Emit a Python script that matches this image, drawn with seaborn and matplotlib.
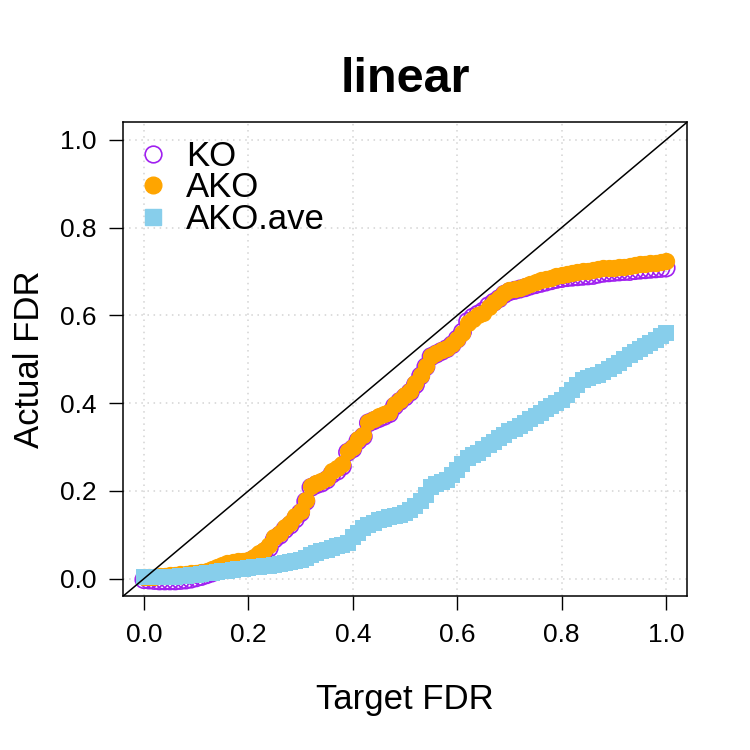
import numpy as np
import pandas as pd
import seaborn as sns
import matplotlib
matplotlib.use("Agg")
import matplotlib.pyplot as plt
from matplotlib.lines import Line2D

# target FDR levels
target = [round(i * 0.01, 2) for i in range(101)]

# actual FDR
ko = [-0.002, -0.003, -0.004, -0.005, -0.005, -0.005, -0.005, -0.004, -0.003, -0.001,
      0.002, 0.005, 0.009, 0.013, 0.018, 0.024, 0.029, 0.032, 0.034, 0.036,
      0.038, 0.044, 0.052, 0.060, 0.070, 0.090, 0.099, 0.112, 0.122, 0.136,
      0.150, 0.176, 0.208, 0.214, 0.218, 0.225, 0.238, 0.245, 0.256, 0.288,
      0.296, 0.314, 0.324, 0.355, 0.360, 0.365, 0.370, 0.376, 0.393, 0.404,
      0.414, 0.425, 0.442, 0.462, 0.483, 0.506, 0.512, 0.518, 0.524, 0.533,
      0.546, 0.562, 0.586, 0.596, 0.603, 0.610, 0.622, 0.630, 0.638, 0.648,
      0.654, 0.657, 0.660, 0.663, 0.667, 0.670, 0.673, 0.676, 0.679, 0.682,
      0.684, 0.686, 0.687, 0.688, 0.689, 0.690, 0.691, 0.694, 0.696, 0.697,
      0.698, 0.699, 0.700, 0.700, 0.702, 0.703, 0.704, 0.705, 0.706, 0.707,
      0.708]

ako = [0.005, 0.005, 0.005, 0.006, 0.007, 0.008, 0.009, 0.010, 0.011, 0.012,
       0.013, 0.015, 0.018, 0.021, 0.026, 0.031, 0.036, 0.038, 0.040, 0.041,
       0.043, 0.050, 0.058, 0.066, 0.076, 0.096, 0.105, 0.118, 0.128, 0.142,
       0.155, 0.180, 0.212, 0.218, 0.222, 0.230, 0.245, 0.252, 0.262, 0.292,
       0.300, 0.318, 0.328, 0.358, 0.365, 0.370, 0.375, 0.380, 0.398, 0.408,
       0.418, 0.428, 0.445, 0.465, 0.485, 0.508, 0.514, 0.520, 0.526, 0.535,
       0.546, 0.560, 0.582, 0.592, 0.600, 0.606, 0.620, 0.630, 0.640, 0.652,
       0.657, 0.660, 0.663, 0.667, 0.672, 0.676, 0.680, 0.683, 0.686, 0.689,
       0.692, 0.694, 0.696, 0.698, 0.700, 0.702, 0.704, 0.706, 0.707, 0.708,
       0.709, 0.710, 0.711, 0.712, 0.714, 0.716, 0.718, 0.719, 0.720, 0.722,
       0.725]

ako_ave = [0.004, 0.004, 0.004, 0.005, 0.005, 0.005, 0.005, 0.006, 0.007, 0.008,
           0.009, 0.010, 0.012, 0.014, 0.016, 0.017, 0.018, 0.020, 0.021, 0.023,
           0.024, 0.026, 0.027, 0.029, 0.030, 0.032, 0.034, 0.036, 0.038, 0.040,
           0.043, 0.048, 0.053, 0.058, 0.062, 0.066, 0.070, 0.074, 0.077, 0.081,
           0.095, 0.105, 0.115, 0.122, 0.128, 0.134, 0.137, 0.140, 0.142, 0.146,
           0.150, 0.157, 0.165, 0.178, 0.190, 0.210, 0.215, 0.220, 0.226, 0.236,
           0.248, 0.262, 0.275, 0.281, 0.287, 0.296, 0.305, 0.312, 0.320, 0.328,
           0.336, 0.341, 0.347, 0.355, 0.363, 0.370, 0.378, 0.386, 0.393, 0.400,
           0.408, 0.418, 0.430, 0.442, 0.453, 0.457, 0.461, 0.465, 0.471, 0.478,
           0.484, 0.492, 0.501, 0.510, 0.517, 0.524, 0.530, 0.538, 0.545, 0.552,
           0.560]

ticks = [0.0, 0.2, 0.4, 0.6, 0.8, 1.0]
tick_labels = ["0.0", "0.2", "0.4", "0.6", "0.8", "1.0"]

df = pd.DataFrame({"target": target, "KO": ko, "AKO": ako, "AKO.ave": ako_ave})

sns.set_style("white")
plt.rcParams["font.family"] = ["Liberation Sans", "DejaVu Sans"]
plt.rcParams["text.color"] = "black"
plt.rcParams["axes.labelcolor"] = "black"

fig = plt.figure(figsize=(7.5, 7.5), dpi=100)
ax = fig.add_axes([0.164, 0.205, 0.752, 0.632])

# dotted grid like R's grid()
for t in ticks:
    ax.axhline(t, color="lightgray", linestyle=(0, (1, 3)), linewidth=1.1, zorder=0)
    ax.axvline(t, color="lightgray", linestyle=(0, (1, 3)), linewidth=1.1, zorder=0)

purple = "#A020F0"
orange = "#FFA500"
skyblue = "#87CEEB"

sns.scatterplot(data=df, x="target", y="KO", ax=ax, marker="o", s=155,
                facecolors="none", edgecolor=purple, linewidth=1.2, zorder=3)
sns.scatterplot(data=df, x="target", y="AKO", ax=ax, marker="o", s=155,
                color=orange, edgecolor=orange, linewidth=0, zorder=4)
sns.scatterplot(data=df, x="target", y="AKO.ave", ax=ax, marker="s", s=120,
                color=skyblue, edgecolor=skyblue, linewidth=0, zorder=5)

ax.axline((0, 0), (1, 1), color="black", linewidth=1.1, zorder=6)

ax.set_xlim(-0.04, 1.04)
ax.set_ylim(-0.04, 1.04)
ax.set_xticks(ticks)
ax.set_xticklabels(tick_labels)
ax.set_yticks(ticks)
ax.set_yticklabels(tick_labels)
ax.tick_params(axis="both", direction="out", length=10, width=1.0,
               labelsize=19, pad=9, colors="black", bottom=True, left=True)
for sp in ax.spines.values():
    sp.set_color("black")
    sp.set_linewidth(1.1)

ax.set_xlabel("Target FDR", fontsize=25, labelpad=26)
ax.set_ylabel("Actual FDR", fontsize=25, labelpad=10)
ax.set_title("linear", fontsize=35, fontweight="bold", pad=22)

handles = [
    Line2D([], [], linestyle="none", marker="o", markersize=12,
           markerfacecolor="none", markeredgecolor=purple, markeredgewidth=1.2),
    Line2D([], [], linestyle="none", marker="o", markersize=12,
           markerfacecolor=orange, markeredgecolor=orange),
    Line2D([], [], linestyle="none", marker="s", markersize=11,
           markerfacecolor=skyblue, markeredgecolor=skyblue),
]
ax.legend(handles, ["KO", "AKO", "AKO.ave"], loc="upper left",
          bbox_to_anchor=(0.0035, 0.985), frameon=False,
          fontsize=25, labelspacing=-0.04, handletextpad=0.45, handlelength=1.0,
          borderaxespad=0.1, borderpad=0.2)

fig.savefig("out.png", dpi=100)
